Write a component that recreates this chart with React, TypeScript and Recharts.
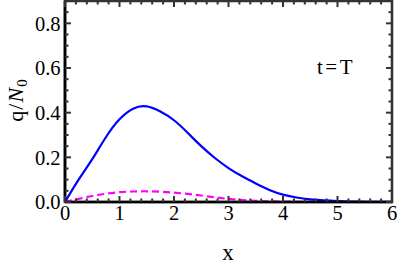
import React from 'react';
import { LineChart, Line, XAxis, YAxis, ReferenceArea, Customized } from 'recharts';

const xs = [0, 0.25, 0.5, 0.75, 1.0, 1.25, 1.5, 1.75, 2.0, 2.25, 2.5, 2.75, 3.0, 3.25, 3.5, 3.75, 4.0, 4.25, 4.5, 4.75, 5.0, 5.25, 5.5, 5.75, 6.0];
const blueSeries = [0, 0.1, 0.192, 0.29, 0.37, 0.418, 0.428, 0.405, 0.366, 0.31, 0.25, 0.197, 0.152, 0.115, 0.083, 0.054, 0.033, 0.02, 0.012, 0.007, 0.004, 0.002, 0.001, 0.0005, 0.0002];
const magentaSeries = [0, 0.014, 0.027, 0.037, 0.044, 0.047, 0.048, 0.046, 0.042, 0.036, 0.029, 0.021, 0.014, 0.009, 0.0055, 0.0033, 0.002, 0.0012, 0.0007, 0.0004, 0.0002, 0.0001, 0.00005, 0.00002, 0];

const xTicks = [0, 0.2, 0.4, 0.6, 0.8, 1, 1.2, 1.4, 1.6, 1.8, 2, 2.2, 2.4, 2.6, 2.8, 3, 3.2, 3.4, 3.6, 3.8, 4, 4.2, 4.4, 4.6, 4.8, 5, 5.2, 5.4, 5.6, 5.8, 6];
const yTicks = [0, 0.05, 0.1, 0.15, 0.2, 0.25, 0.3, 0.35, 0.4, 0.45, 0.5, 0.55, 0.6, 0.65, 0.7, 0.75, 0.8, 0.85];
const yMajor = [0, 0.2, 0.4, 0.6, 0.8];

const data = xs.map((x, i) => ({ x, blue: blueSeries[i], magenta: magentaSeries[i] }));

const FONT = 'Liberation Serif, Times New Roman, serif';
const FS = 20.5;
const INK = '#333333';

const W = 399;
const H = 265;
const M = { top: 1, right: 7, bottom: 0, left: 1 };
const YW = 64;
const XH = 63;
const PLOT_W = W - M.left - M.right - YW;
const PLOT_H = H - M.top - M.bottom - XH;

const isMajorX = (v: number) => Math.abs(v - Math.round(v)) < 1e-6;
const isMajorY = (v: number) => yMajor.some((m) => Math.abs(m - v) < 1e-6);

const XTick = (props: any) => {
  const { x, y, payload } = props;
  const v = payload.value;
  const major = isMajorX(v);
  const len = major ? 6 : 3.5;
  return (
    <g>
      <path d={`M${x},${y}V${y - len}`} stroke={INK} strokeWidth={2} />
      <path d={`M${x},${y - PLOT_H}V${y - PLOT_H + len}`} stroke={INK} strokeWidth={2} />
      {major && (
        <text x={x} y={y + 17.5} textAnchor="middle" style={{ fontFamily: FONT, fontSize: FS }} fill="#000">
          {String(Math.round(v))}
        </text>
      )}
    </g>
  );
};

const YTick = (props: any) => {
  const { x, y, payload } = props;
  const v = payload.value;
  const major = isMajorY(v);
  const len = major ? 6 : 3.5;
  return (
    <g>
      <path d={`M${x},${y}H${x + len}`} stroke={INK} strokeWidth={2} />
      <path d={`M${x + PLOT_W},${y}H${x + PLOT_W - len}`} stroke={INK} strokeWidth={2} />
      {major && (
        <text x={x - 4.5} y={y + 7.2} textAnchor="end" style={{ fontFamily: FONT, fontSize: FS }} fill="#000">
          {v.toFixed(1)}
        </text>
      )}
    </g>
  );
};

const Annotations = () => (
  <g>
    <text x={228} y={260} textAnchor="middle" fill="#000" style={{ fontFamily: FONT, fontSize: 23 }}>x</text>
    <text transform="translate(22.5,100) rotate(-90)" textAnchor="middle" fill="#000" style={{ fontFamily: FONT, fontSize: 22, letterSpacing: 1 }}>
      q/<tspan fontStyle="italic">N</tspan>
      <tspan style={{ fontSize: 15 }} dy={4}>0</tspan>
    </text>
    <text x={317} y={74} textAnchor="start" fill="#000" style={{ fontFamily: FONT, fontSize: 21, letterSpacing: 2.5 }}>t=T</text>
  </g>
);

const axisLine = { stroke: '#000', strokeWidth: 2.6 };

export default function App() {
  return (
    <div style={{ position: 'absolute', left: 0, top: 0, width: W, height: H, background: '#fff' }}>
      <LineChart width={W} height={H} data={data} margin={M}>
        <XAxis
          dataKey="x"
          type="number"
          domain={[0, 6]}
          ticks={xTicks}
          interval={0}
          height={XH}
          tickSize={0}
          tickMargin={0}
          tickLine={false}
          axisLine={axisLine}
          tick={<XTick />}
          allowDataOverflow
        />
        <YAxis
          type="number"
          domain={[0, 0.9]}
          ticks={yTicks}
          interval={0}
          width={YW}
          tickSize={0}
          tickMargin={0}
          tickLine={false}
          axisLine={axisLine}
          tick={<YTick />}
          allowDataOverflow
        />
        <ReferenceArea
          x1={0}
          x2={6}
          y1={0}
          y2={0.9}
          fill="none"
          fillOpacity={0}
          stroke={INK}
          strokeWidth={2.6}
          ifOverflow="visible"
        />
        <Line
          type="natural"
          dataKey="magenta"
          stroke="#FF00FF"
          strokeWidth={2.2}
          strokeDasharray="7 4"
          dot={false}
          isAnimationActive={false}
        />
        <Line
          type="natural"
          dataKey="blue"
          stroke="#0000FF"
          strokeWidth={2.2}
          dot={false}
          isAnimationActive={false}
        />
        <Customized component={Annotations} />
      </LineChart>
    </div>
  );
}
